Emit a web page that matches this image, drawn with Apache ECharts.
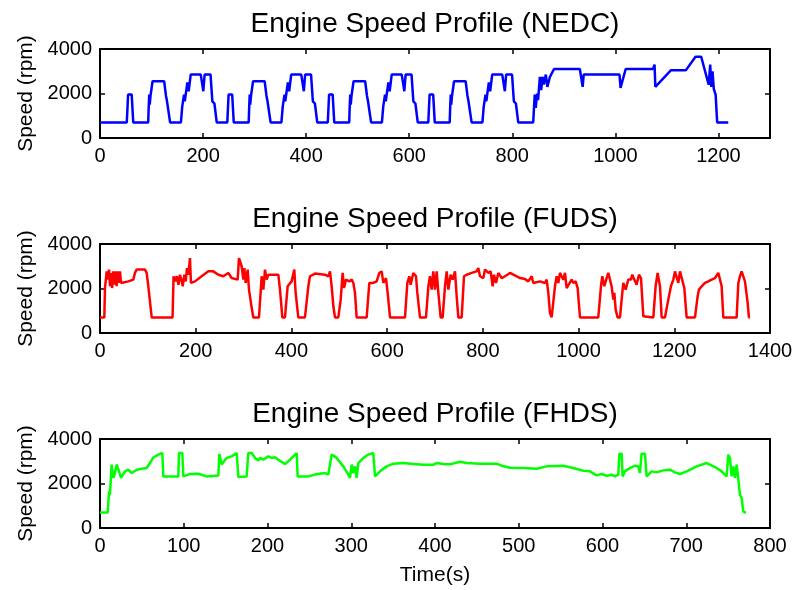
<!DOCTYPE html>
<html>
<head>
<meta charset="utf-8">
<script src="https://cdn.jsdelivr.net/npm/echarts@6/dist/echarts.min.js"></script>
<style>
html,body{margin:0;padding:0;background:#fff;}
#chart{width:796px;height:590px;}
</style>
</head>
<body>
<div id="chart"></div>
<script>
// ---------------- DATA ----------------
const titles = ['Engine Speed Profile (NEDC)', 'Engine Speed Profile (FUDS)', 'Engine Speed Profile (FHDS)'];
const yTicks = [0, 2000, 4000];
const xMax = [1300, 1400, 800];
const xStep = [200, 200, 100];

const nedcTime = [0, 52, 54.5, 61.5, 64.5, 93.5, 94.5, 95.5, 96.5, 98, 102, 124.5, 128, 130, 133, 136, 157, 159.5, 163, 164.5, 169.5, 172, 176, 195.5, 200.5, 203, 214.5, 218, 222, 226.5,
  247, 249.5, 256.5, 259.5, 288.5, 289.5, 290.5, 291.5, 293, 297, 319.5, 323, 325, 328, 331, 352, 354.5, 358, 359.5, 364.5, 367, 371, 390.5, 395.5, 398, 409.5, 413, 417, 421.5,
  442, 444.5, 451.5, 454.5, 483.5, 484.5, 485.5, 486.5, 488, 492, 514.5, 518, 520, 523, 526, 547, 549.5, 553, 554.5, 559.5, 562, 566, 585.5, 590.5, 593, 604.5, 608, 612, 616.5,
  637, 639.5, 646.5, 649.5, 678.5, 679.5, 680.5, 681.5, 683, 687, 709.5, 713, 715, 718, 721, 742, 744.5, 748, 749.5, 754.5, 757, 761, 780.5, 785.5, 788, 799.5, 803, 807, 811.5,
  840.5, 843.5, 845.5, 848, 850, 853.5, 856, 858.5, 861, 865, 868, 873, 881, 931, 936.5, 938.5, 1008, 1010, 1020, 1073, 1076, 1077.5, 1108, 1137, 1155.5, 1166.5, 1181, 1184, 1186, 1188.5, 1191, 1194.5, 1197.5, 1219];
const nedcRpm = [700, 700, 1950, 1950, 700, 700, 1400, 1950, 1500, 1900, 2550, 2550, 1900, 1650, 1600, 700, 700, 1400, 1950, 1650, 2500, 2100, 2850, 2850, 2100, 2850, 2850, 1650, 1550, 700,
  700, 1950, 1950, 700, 700, 1400, 1950, 1500, 1900, 2550, 2550, 1900, 1650, 1600, 700, 700, 1400, 1950, 1650, 2500, 2100, 2850, 2850, 2100, 2850, 2850, 1650, 1550, 700,
  700, 1950, 1950, 700, 700, 1400, 1950, 1500, 1900, 2550, 2550, 1900, 1650, 1600, 700, 700, 1400, 1950, 1650, 2500, 2100, 2850, 2850, 2100, 2850, 2850, 1650, 1550, 700,
  700, 1950, 1950, 700, 700, 1400, 1950, 1500, 1900, 2550, 2550, 1900, 1650, 1600, 700, 700, 1400, 1950, 1650, 2500, 2100, 2850, 2850, 2100, 2850, 2850, 1650, 1550, 700,
  700, 1950, 1350, 2000, 1700, 2750, 2150, 2750, 2400, 2850, 2300, 2750, 3100, 3100, 2300, 2850, 2850, 2250, 3100, 3100, 3300, 2300, 3050, 3050, 3650, 3650, 2400, 3300, 2300, 3000, 2200, 1950, 700, 700];

const fudsTime = [0, 9, 10.4, 14, 16, 18.8, 21, 24.4, 25.3, 27.3, 29.7, 32.7, 34.8, 36.9, 39.7, 41.8, 43.9, 45.3, 59.2, 69.6, 73.1, 76.6, 94, 97.5, 101, 108,
  151.6, 153.7, 157, 160.5, 164, 167.1, 171.6, 172.8, 176.2, 179, 181.8, 184.6, 188, 190, 198.5, 212.4, 226.3, 236.8, 247.3, 257.7, 268.1, 275, 287.6, 290.4, 296, 299.5, 301.6, 304.4, 308.6, 311.3, 317, 320.4,
  332.2, 337.8, 341.3, 344.8, 348.3, 351.7, 372.6, 376.1, 381, 386.5, 392.1, 400.4, 406, 408.8, 414.4, 428.3, 435.3, 438.8, 449.2, 470, 477.1, 480.6, 484.1, 487.6, 491,
  498, 502.9, 507, 509.9, 514, 521, 525.9, 529.4, 532.8, 536.3, 557.2, 562.8, 571.1, 578.1, 583.7, 588.6, 592, 597.6, 601.1, 606,
  637.3, 642.2, 646.4, 649.1, 654.7, 660.3, 663.1, 668.6, 681.2, 686.1, 689.5, 693, 696.5, 700, 703.5, 707, 711.8, 716, 720.9, 724.4, 727.9, 732.7, 736.9, 741.8, 745.3, 748.7, 755.7,
  760.6, 766.1, 776.6, 787, 790.5, 794, 801, 804.5, 808, 811.4, 816.3, 820.5, 823.3, 827.5, 832.3, 839.3, 846.3, 856.7, 863.7, 870.6, 877.6, 888, 895, 902, 905.5, 919.4, 929.8, 933.3, 936.8,
  940.2, 943.7, 947.2, 950.7, 954.2, 957.7, 961.1, 964.6, 968.1, 971.6, 975.1, 978.6, 985.5, 989, 993.9, 998.1, 999.4, 1003, 1041.2, 1046.8, 1049.6, 1053.8, 1058.7, 1062.1, 1065.6, 1069.1,
  1072.6, 1074.7, 1077.5, 1081.6, 1086.5, 1090, 1093.5, 1098.4, 1103.9, 1109.5, 1112.3, 1116.5, 1121.3, 1126.2, 1130.4, 1135.3, 1137.4, 1156.2, 1161, 1165.2, 1170.1, 1173.6, 1180.5,
  1187.5, 1193, 1198, 1201.4, 1204.9, 1208.4, 1211.9, 1215.4, 1221, 1225.8, 1243.2, 1248.8, 1251.6, 1257.2, 1264.1, 1271.1, 1278, 1285, 1292, 1295.5, 1299, 1302.4, 1330.3,
  1333.8, 1337.3, 1340.7, 1344.2, 1347.7, 1353.3, 1356, 1358];
const fudsRpm = [700, 700, 2020, 2770, 2400, 2850, 2100, 2700, 2020, 2770, 2170, 2770, 2100, 2770, 2250, 2770, 2250, 2250, 2320, 2400, 2700, 2850, 2850, 2700, 2100, 700,
  700, 2550, 2320, 2550, 2170, 2620, 2250, 2100, 2620, 2320, 2920, 2620, 3370, 2250, 2320, 2550, 2770, 2770, 2620, 2550, 2700, 2470, 2400, 3370, 3000, 2400, 2920, 2250, 2850, 1950, 1120, 700,
  700, 2550, 1950, 2850, 2400, 2620, 2620, 1950, 700, 700, 2100, 2320, 2850, 1800, 700, 700, 2100, 2550, 2670, 2620, 2550, 2770, 2100, 1200, 700,
  700, 1500, 2700, 2020, 2400, 2320, 2400, 2250, 1800, 700, 700, 2250, 2250, 2320, 2700, 2770, 2250, 2470, 1800, 700,
  700, 2250, 2550, 2170, 2700, 2550, 1800, 700, 700, 2100, 2550, 1950, 2770, 1950, 2770, 1800, 700, 700, 2100, 2770, 1950, 2620, 2400, 2770, 1650, 700, 700,
  2550, 2620, 2700, 2770, 2920, 2550, 2470, 2850, 2770, 2700, 2770, 2100, 2620, 2250, 2700, 2470, 2550, 2700, 2620, 2550, 2470, 2430, 2320, 2550, 2250, 2320, 2250, 2400, 1800,
  900, 700, 750, 2100, 2550, 2250, 2700, 2550, 2400, 2700, 2020, 2100, 2400, 2250, 2320, 2020, 1650, 700, 700, 2100, 2550, 2100, 2470, 2700, 2770, 2100,
  1500, 1800, 1050, 700, 700, 1500, 2250, 1950, 2400, 2400, 2620, 2400, 2170, 2620, 2470, 750, 700, 700, 2100, 2700, 2100, 700, 700,
  1500, 2100, 2400, 2770, 2850, 2250, 2770, 2700, 2020, 700, 700, 1650, 1950, 2100, 2250, 2320, 2400, 2470, 2700, 2770, 2100, 700, 700,
  2250, 2550, 2770, 2700, 2320, 1350, 700, 700];

const fhdsTime = [0, 9.2, 10.8, 11.9, 13.9, 15.9, 17.9, 19.9, 22.7, 25.1, 29.9, 33.8, 37.8, 43.8, 51.7, 55.7, 59.7, 63.7, 69.7, 74.4, 75.6, 93.5, 94.3, 98.3, 99.5,
  107.5, 117.4, 127.4, 141.3, 142.5, 145.3, 147.3, 151.2, 157.2, 163.2, 165.2, 175.1, 177.1, 181.1, 185.1, 189, 191, 195, 201, 205, 209, 213, 214.9, 220.9, 226.9, 234.8, 236,
  248.8, 256.7, 268.7, 272.6, 276.6, 282.6, 290.5, 296.5, 298.5, 300.5, 302.5, 304.5, 306.4, 308.4, 314.4, 320.3, 326.3, 328.4, 334.3, 342.3, 350.2, 362.2, 374.1, 386.1, 398, 402,
  409.9, 417.9, 429.8, 437.8, 453.7, 473.6, 479.6, 489.5, 505.4, 521.4, 533.3, 553.2, 565.1, 577.1, 585, 593, 599, 605, 610.9, 614.9, 618.9, 620.1, 622.9, 624, 626.8, 632.8,
  638.8, 642.8, 644.7, 646.7, 650.7, 652.7, 658.7, 664.6, 672.6, 680.6, 686.5, 692.5, 700.5, 712.4, 724.3, 728.3, 734.3, 742.3, 748.2, 750.2, 752.2, 754.2, 756.2, 758.2,
  760.2, 762.2, 764.1, 766.1, 768.1, 771.3];
const fhdsRpm = [700, 700, 1650, 1500, 2850, 2250, 2470, 2850, 2550, 2250, 2550, 2620, 2470, 2620, 2670, 2700, 2920, 3170, 3300, 3370, 2320, 2320, 3370, 3370, 2320,
  2430, 2440, 2320, 2360, 3320, 2850, 2920, 3150, 3220, 3370, 2290, 2320, 3370, 3370, 3150, 3030, 3150, 3070, 3220, 3150, 3180, 3070, 3150, 2870, 3070, 3370, 2320,
  2320, 2400, 2470, 2400, 3300, 3150, 2770, 2400, 2250, 2850, 2470, 2770, 2250, 2920, 3150, 3300, 3370, 2320, 2550, 2770, 2890, 2920, 2875, 2845, 2845, 2920,
  2875, 2860, 2980, 2920, 2890, 2890, 2800, 2710, 2695, 2665, 2770, 2800, 2695, 2575, 2546, 2366, 2426, 2351, 2395, 2320, 2395, 3340, 3340, 2320, 2546, 2695,
  2800, 2770, 2470, 3340, 3340, 2320, 2546, 2500, 2590, 2620, 2500, 2426, 2546, 2770, 2920, 2845, 2740, 2546, 2320, 3294, 3146, 2320, 2770, 2250,
  2845, 2170, 1500, 1350, 750, 680];

const seriesColors = ['#0000ff', '#ff0000', '#00ff00'];

// ---------------- CHART ----------------
const FONT = '"Liberation Sans", Arial, sans-serif';
const zip = (t, v) => t.map((x, i) => [x, v[i]]);
const datasets = [zip(nedcTime, nedcRpm), zip(fudsTime, fudsRpm), zip(fhdsTime, fhdsRpm)];

const gridTops = [49, 244, 439];
const grids = gridTops.map(t => ({ left: 100, width: 670, top: t, height: 89 }));

const axisLineStyle = { show: true, onZero: false, lineStyle: { color: '#000', width: 2 } };
const tickStyle = { show: true, inside: true, length: 5, lineStyle: { color: '#000', width: 1.5 } };
const plainNum = v => String(v);

const xAxes = [], yAxes = [], series = [], titleArr = [];
for (let i = 0; i < 3; i++) {
  xAxes.push({
    type: 'value', gridIndex: i, position: 'bottom', min: 0, max: xMax[i], interval: xStep[i],
    axisLine: axisLineStyle, axisTick: tickStyle, splitLine: { show: false },
    axisLabel: { color: '#000', fontSize: 20, fontFamily: FONT, margin: 8, formatter: plainNum, showMaxLabel: xMax[i] % xStep[i] === 0 },
    name: i === 2 ? 'Time(s)' : '', nameLocation: 'middle', nameGap: 37,
    nameTextStyle: { color: '#000', fontSize: 21, fontFamily: FONT }
  });
  xAxes.push({
    type: 'value', gridIndex: i, position: 'top', min: 0, max: xMax[i], interval: xStep[i],
    axisLine: axisLineStyle, axisTick: tickStyle, splitLine: { show: false }, axisLabel: { show: false }
  });
  yAxes.push({
    type: 'value', gridIndex: i, position: 'left', min: yTicks[0], max: yTicks[yTicks.length - 1], interval: yTicks[1] - yTicks[0],
    axisLine: axisLineStyle, axisTick: tickStyle, splitLine: { show: false },
    axisLabel: { color: '#000', fontSize: 20, fontFamily: FONT, margin: 8, formatter: plainNum },
    name: 'Speed (rpm)', nameLocation: 'middle', nameGap: 62,
    nameTextStyle: { color: '#000', fontSize: 21, fontFamily: FONT }
  });
  yAxes.push({
    type: 'value', gridIndex: i, position: 'right', min: yTicks[0], max: yTicks[yTicks.length - 1], interval: yTicks[1] - yTicks[0],
    axisLine: axisLineStyle, axisTick: tickStyle, splitLine: { show: false }, axisLabel: { show: false }
  });
  series.push({
    type: 'line', xAxisIndex: 2 * i, yAxisIndex: 2 * i, data: datasets[i],
    showSymbol: false, symbol: 'none', lineStyle: { color: seriesColors[i], width: 2.5 },
    itemStyle: { color: seriesColors[i] }, animation: false
  });
  titleArr.push({
    text: titles[i], left: 435, top: gridTops[i] - 39, textAlign: 'center', padding: 0,
    textStyle: { color: '#000', fontSize: 28, fontWeight: 'normal', fontFamily: FONT }
  });
}

const chart = echarts.init(document.getElementById('chart'), null, { renderer: 'canvas' });
chart.setOption({
  backgroundColor: '#fff',
  animation: false,
  title: titleArr,
  grid: grids,
  xAxis: xAxes,
  yAxis: yAxes,
  series: series
});
</script>
</body>
</html>
